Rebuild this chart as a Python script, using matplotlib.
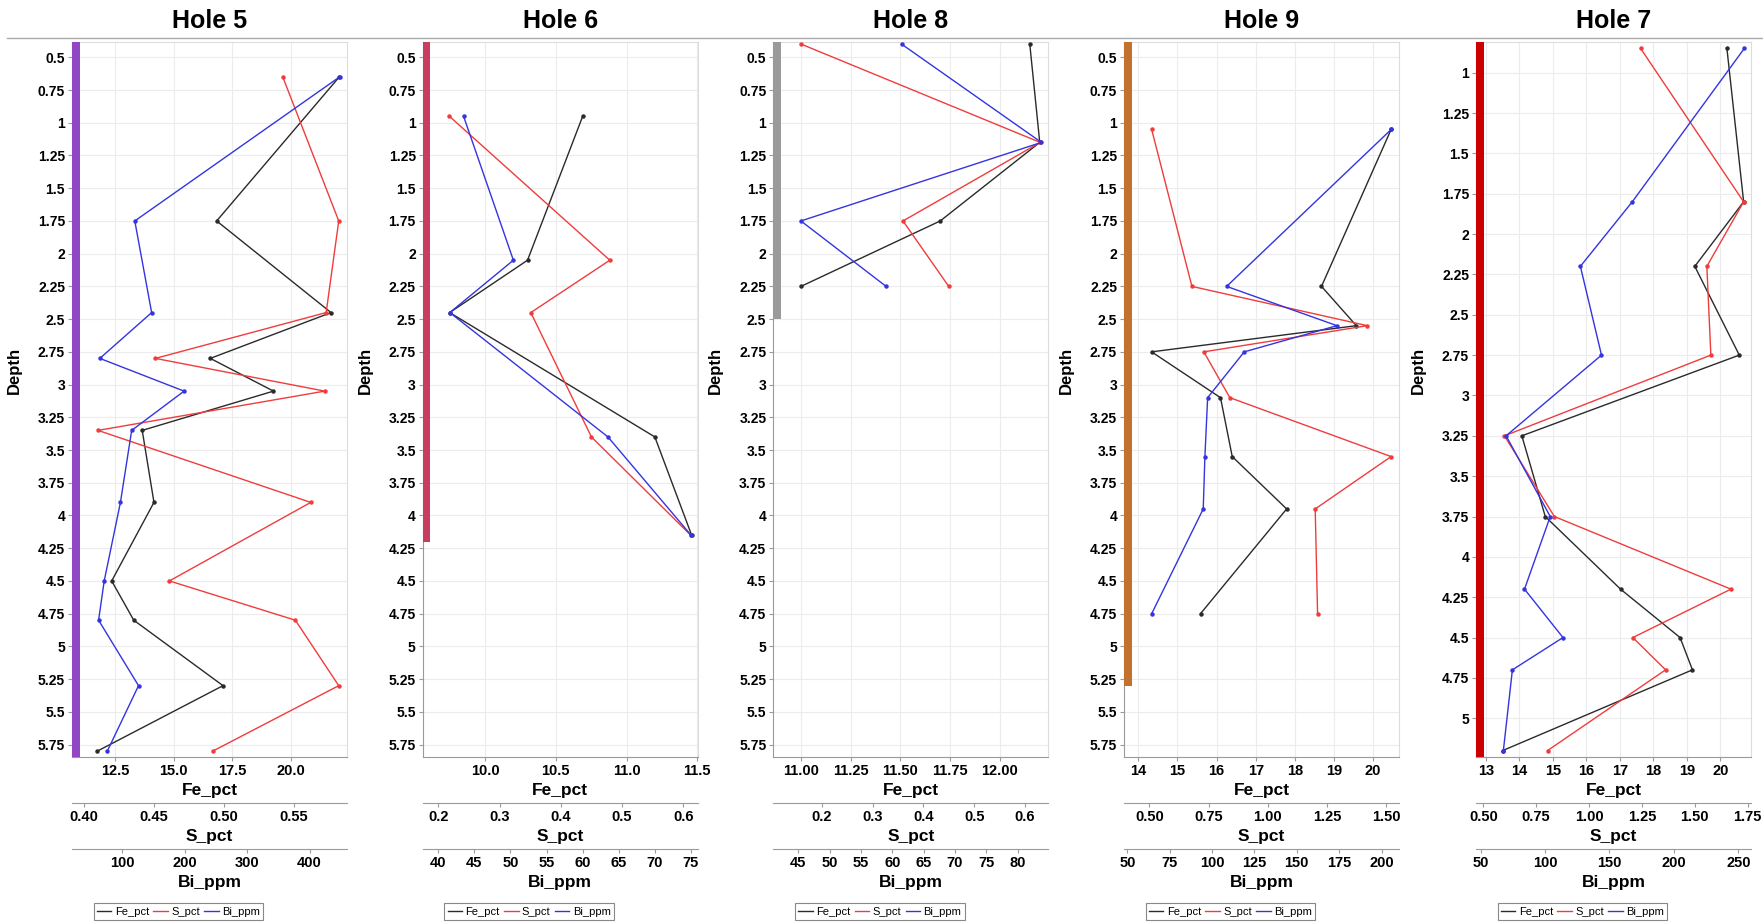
import matplotlib
matplotlib.use("Agg")
import matplotlib.pyplot as plt
import matplotlib.transforms as mtransforms
from matplotlib.lines import Line2D
from matplotlib.patches import Rectangle
from matplotlib.ticker import MultipleLocator, FormatStrFormatter, FuncFormatter

plt.rcParams["font.family"] = ["Liberation Sans", "DejaVu Sans"]
plt.rcParams["font.weight"] = "bold"
plt.rcParams["axes.labelweight"] = "bold"

# --- data ------------------------------------------------------------------
holes = ["Hole 5", "Hole 6", "Hole 8", "Hole 9", "Hole 7"]
hole_colors = ["#9146c4", "#c93c62", "#9a9a9a", "#c2722e", "#cc0000"]
hole_bottom = [5.85, 4.2, 2.5, 5.3, 5.25]

h5_depth = [0.65, 1.75, 2.45, 2.8, 3.05, 3.35, 3.9, 4.5, 4.8, 5.3, 5.8]
h5_fe = [22.05, 16.83, 21.7, 16.56, 19.25, 13.66, 14.16, 12.36, 13.3, 17.1, 11.75]
h5_s = [0.542, 0.582, 0.573, 0.451, 0.572, 0.410, 0.562, 0.461, 0.551, 0.582, 0.492]
h5_bi = [448, 120, 147, 64, 199, 115, 97, 71, 62, 126, 76]

h6_depth = [0.95, 2.05, 2.45, 3.4, 4.15]
h6_fe = [10.69, 10.30, 9.75, 11.20, 11.46]
h6_s = [0.218, 0.480, 0.351, 0.450, 0.612]
h6_bi = [43.5, 50.4, 41.6, 63.5, 75.0]

h8_depth = [0.4, 1.15, 1.75, 2.25]
h8_fe = [12.15, 12.2, 11.7, 11.0]
h8_s = [0.16, 0.63, 0.36, 0.45]
h8_bi = [61.5, 83.8, 45.4, 59.0]

h9_depth = [1.05, 2.25, 2.55, 2.75, 3.1, 3.55, 3.95, 4.75]
h9_fe = [20.46, 18.68, 19.57, 14.34, 16.10, 16.40, 17.79, 15.59]
h9_s = [0.51, 0.68, 1.42, 0.73, 0.84, 1.52, 1.20, 1.21]
h9_bi = [205.8, 108.6, 173.7, 119, 97.4, 95.8, 94.8, 64.4]

h7_depth = [0.85, 1.8, 2.2, 2.75, 3.25, 3.75, 4.2, 4.5, 4.7, 5.2]
h7_fe = [20.2, 20.7, 19.24, 20.57, 14.07, 14.77, 17.02, 18.8, 19.17, 13.5]
h7_s = [1.244, 1.731, 1.557, 1.576, 0.600, 0.836, 1.671, 1.207, 1.362, 0.804]
h7_bi = [254.7, 167.7, 127.4, 143.8, 69.7, 104, 84, 113.9, 74.6, 67.6]

depths = [h5_depth, h6_depth, h8_depth, h9_depth, h7_depth]
fe_vals = [h5_fe, h6_fe, h8_fe, h9_fe, h7_fe]
s_vals = [h5_s, h6_s, h8_s, h9_s, h7_s]
bi_vals = [h5_bi, h6_bi, h8_bi, h9_bi, h7_bi]

series = ["Fe_pct", "S_pct", "Bi_ppm"]
series_colors = ["#2a2a2a", "#f03c3c", "#3434e0"]

# --- axis setup per panel -------------------------------------------------
y_lims = [(5.845, 0.383)] * 4 + [(5.24, 0.81)]
fe_lims = [(10.67, 22.38), (9.559, 11.503), (10.861, 12.243), (13.635, 20.66), (12.7, 20.92)]
s_lims = [(0.3914, 0.5879), (0.1745, 0.6235), (0.1047, 0.646), (0.3934, 1.5535), (0.4654, 1.7658)]
bi_lims = [(19.4, 460), (37.84, 75.93), (40.99, 84.9), (48.06, 210.3), (46.34, 259.9)]
fe_steps = [2.5, 0.5, 0.25, 1, 1]
fe_fmts = ["%.1f", "%.1f", "%.2f", "%d", "%d"]
s_steps = [0.05, 0.1, 0.1, 0.25, 0.25]
s_fmts = ["%.2f", "%.1f", "%.1f", "%.2f", "%.2f"]
bi_steps = [100, 5, 5, 25, 50]

W, H = 1763, 922
lefts_px = [72, 422.7, 773.3, 1124, 1476]
width_px, top_px, bottom_px = 275, 42, 757

fig = plt.figure(figsize=(W / 100, H / 100), dpi=100)
fig.patch.set_facecolor("white")

# line under the titles
fig.add_artist(Line2D([7 / W, 1.0], [1 - 38 / H] * 2, color="#aaaaaa", lw=1.0))

for i, name in enumerate(holes):
    rect = [lefts_px[i] / W, 1 - bottom_px / H, width_px / W, (bottom_px - top_px) / H]
    ax = fig.add_axes(rect)
    ax_s = ax.twiny()
    ax_b = ax.twiny()

    ax.set_ylim(*y_lims[i])
    ax.yaxis.set_major_locator(MultipleLocator(0.25))
    ax.yaxis.set_major_formatter(FuncFormatter(lambda v, _: f"{v:g}"))

    for a, lim, step, fmt in [
        (ax, fe_lims[i], fe_steps[i], fe_fmts[i]),
        (ax_s, s_lims[i], s_steps[i], s_fmts[i]),
        (ax_b, bi_lims[i], bi_steps[i], "%d"),
    ]:
        a.set_xlim(*lim)
        a.xaxis.set_major_locator(MultipleLocator(step))
        a.xaxis.set_major_formatter(FormatStrFormatter(fmt))

    # plot area style
    ax.set_axisbelow(True)
    ax.grid(color="#ececec", lw=0.8)
    for side in ["top", "right"]:
        ax.spines[side].set_color("#dcdcdc")
    for side in ["left", "bottom"]:
        ax.spines[side].set_color("#9a9a9a")
    ax.tick_params(axis="y", labelsize=10, length=3, width=0.8, color="#9a9a9a", pad=2)
    ax.tick_params(axis="x", labelsize=10.5, length=3, width=0.8, color="#9a9a9a", pad=2)

    for a, off in [(ax_s, 33.3), (ax_b, 66.5)]:
        a.xaxis.set_ticks_position("bottom")
        a.xaxis.set_label_position("bottom")
        a.spines["bottom"].set_position(("outward", off))
        a.spines["bottom"].set_color("#9a9a9a")
        for side in ["top", "right", "left"]:
            a.spines[side].set_visible(False)
        a.tick_params(axis="x", labelsize=10.5, length=3, width=0.8, color="#9a9a9a", pad=2)

    ax.set_xlabel("Fe_pct", fontsize=12.5, fontweight="bold")
    ax_s.set_xlabel("S_pct", fontsize=12.5, fontweight="bold")
    ax_b.set_xlabel("Bi_ppm", fontsize=12.5, fontweight="bold")
    ax.xaxis.set_label_coords(0.5, -0.036)
    ax_s.xaxis.set_label_coords(0.5, -0.100)
    ax_b.xaxis.set_label_coords(0.5, -0.165)
    ax.set_ylabel("Depth", fontsize=12, fontweight="bold")
    ax.yaxis.set_label_coords(-0.183, 0.54)

    # hole depth bar on the left edge
    trans = mtransforms.blended_transform_factory(ax.transAxes, ax.transData)
    top = min(y_lims[i])
    ax.add_patch(Rectangle((0.0, top), 0.028, hole_bottom[i] - top, transform=trans,
                           facecolor=hole_colors[i], edgecolor="none", zorder=3))

    for a, vals, c in [(ax, fe_vals[i], series_colors[0]),
                       (ax_s, s_vals[i], series_colors[1]),
                       (ax_b, bi_vals[i], series_colors[2])]:
        a.plot(vals, depths[i], color=c, lw=1.0, marker="o", ms=2.2, zorder=4)

    cx = (lefts_px[i] + width_px / 2) / W
    fig.text(cx, 1 - 21 / H, name, ha="center", va="center", fontsize=18, fontweight="bold")

    handles = [Line2D([], [], color=c, lw=1.0) for c in series_colors]
    leg = ax.legend(handles, series, loc="center",
                    bbox_to_anchor=(cx - 31 / W, 1 - 911.7 / H), bbox_transform=fig.transFigure,
                    ncol=3, prop={"size": 8, "weight": "normal"}, handlelength=1.3,
                    handletextpad=0.3, columnspacing=0.4, borderpad=0.3,
                    fancybox=False, framealpha=1, edgecolor="#888888")
    leg.get_frame().set_linewidth(0.8)

fig.savefig("out.png", dpi=100)
